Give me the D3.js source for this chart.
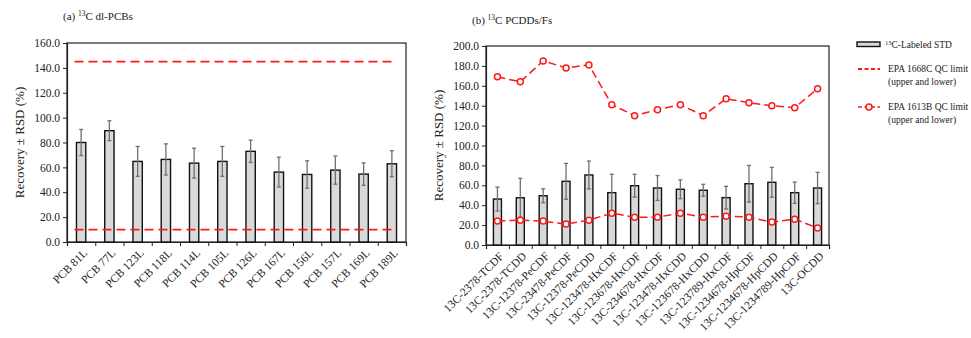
<!DOCTYPE html>
<html>
<head>
<meta charset="utf-8">
<script src="https://cdn.jsdelivr.net/npm/d3@7"></script>
<style>
  body { margin: 0; background: #fff; }
</style>
</head>
<body>
<script>
// panel (a) 13C dl-PCBs
const pcbNames = ["PCB 81L", "PCB 77L", "PCB 123L", "PCB 118L", "PCB 114L", "PCB 105L",
  "PCB 126L", "PCB 167L", "PCB 156L", "PCB 157L", "PCB 169L", "PCB 189L"]
const pcbMean = [80, 89.5, 64.8, 66.4, 63.4, 64.8, 72.9, 56.2, 54.3, 57.8, 54.6, 62.9]
const pcbSd = [10.5, 8, 12, 12.5, 12, 12, 9, 12, 11, 11.3, 9, 10.5]
const epa1668 = [10, 145]

// panel (b) 13C PCDDs/Fs
const pcddNames = ["13C-2378-TCDF", "13C-2378-TCDD", "13C-12378-PeCDF", "13C-23478-PeCDF",
  "13C-12378-PeCDD", "13C-123478-HxCDF", "13C-123678-HxCDF", "13C-234678-HxCDF",
  "13C-123478-HxCDD", "13C-123678-HxCDD", "13C-123789-HxCDF", "13C-1234678-HpCDF",
  "13C-1234678-HpCDD", "13C-1234789-HpCDF", "13C-OCDD"]
const pcddMean = [46.2, 47.5, 49.5, 64, 70.4, 52.6, 59.6, 57.3, 56, 55, 47.6, 61.6, 63, 52.6, 57.3]
const pcddSd = [12, 19.5, 7, 18, 14, 18.5, 11.5, 12.5, 9.5, 6, 11.4, 18.4, 15, 10.7, 15.7]
const epa1613Upper = [169, 164, 185, 178, 181, 141, 130, 136, 141, 130, 147, 143, 140, 138, 157]
const epa1613Lower = [24, 25, 24, 21, 25, 32, 28, 28, 32, 28, 29, 28, 23, 26, 17]

const red = "#ff1a1a"
const serif = "'Liberation Serif', 'Times New Roman', Times, serif"

const svg = d3.select("body").append("svg")
    .attr("width", 971)
    .attr("height", 338)

function panel(opts) {
    const { left, right, top, bottom, yMax, names, mean, sd, title, titleX, titleY, pad } = opts
    const g = svg.append("g")

    const x = d3.scaleBand().domain(names).range([left, right]).paddingInner(pad).paddingOuter(pad / 2)
    const xEdge = d3.scaleLinear().domain([0, names.length]).range([left, right])
    const y = d3.scaleLinear().domain([0, yMax]).range([bottom, top])

    // frame
    g.append("rect")
        .attr("x", left).attr("y", top)
        .attr("width", right - left).attr("height", bottom - top)
        .attr("fill", "none").attr("stroke", "#222").attr("stroke-width", 1.2)

    // y axis
    const yAxis = g.append("g")
        .attr("transform", `translate(${left},0)`)
        .call(d3.axisLeft(y).ticks(yMax / 20).tickSize(4).tickFormat(d3.format(".1f")))
    yAxis.select(".domain").attr("stroke", "#222").attr("stroke-width", 1.2)
    yAxis.selectAll("line").attr("stroke", "#222")
    yAxis.selectAll("text")
        .attr("font-size", 11.5).attr("fill", "#222").attr("x", -7)

    // x axis ticks at category edges
    const xAxis = g.append("g")
        .attr("transform", `translate(0,${bottom})`)
        .call(d3.axisBottom(xEdge).tickValues(d3.range(names.length + 1)).tickSize(4).tickFormat(""))
    xAxis.select(".domain").attr("stroke", "#222").attr("stroke-width", 1.2)
    xAxis.selectAll("line").attr("stroke", "#222")

    // x labels
    g.append("g").selectAll("text")
        .data(names)
        .join("text")
        .attr("transform", d => `translate(${x(d) + x.bandwidth() / 2 + 4},${bottom + 9}) rotate(-45)`)
        .attr("text-anchor", "end")
        .attr("dy", "0.35em")
        .attr("font-size", 11.5)
        .attr("fill", "#222")
        .text(d => d)

    // y title
    g.append("text")
        .attr("transform", `translate(${left - 43},${(top + bottom) / 2}) rotate(-90)`)
        .attr("text-anchor", "middle")
        .attr("font-size", 13)
        .attr("fill", "#222")
        .text("Recovery \u00b1 RSD (%)")

    // panel title
    const t = g.append("text")
        .attr("x", titleX).attr("y", titleY)
        .attr("font-size", 11)
        .attr("fill", "#222")
    t.append("tspan").text(title[0] + " ")
    t.append("tspan").attr("font-size", 7.5).attr("dy", -4).text("13")
    t.append("tspan").attr("dy", 4).text(title[1])

    // bars
    g.append("g").selectAll("rect")
        .data(names)
        .join("rect")
        .attr("x", d => x(d))
        .attr("width", x.bandwidth())
        .attr("y", (d, i) => y(mean[i]))
        .attr("height", (d, i) => bottom - y(mean[i]))
        .attr("fill", "#d9d9d9")
        .attr("stroke", "#111")
        .attr("stroke-width", 1.4)

    // error bars
    const err = g.append("g")
        .attr("stroke", "#6f6f6f")
        .attr("stroke-width", 1.3)
        .selectAll("g")
        .data(names)
        .join("g")
    const cx = d => x(d) + x.bandwidth() / 2
    err.append("line")
        .attr("x1", cx).attr("x2", cx)
        .attr("y1", (d, i) => y(mean[i] - sd[i]))
        .attr("y2", (d, i) => y(mean[i] + sd[i]))
    err.append("line")
        .attr("x1", d => cx(d) - 2).attr("x2", d => cx(d) + 2)
        .attr("y1", (d, i) => y(mean[i] + sd[i]))
        .attr("y2", (d, i) => y(mean[i] + sd[i]))
    err.append("line")
        .attr("x1", d => cx(d) - 2).attr("x2", d => cx(d) + 2)
        .attr("y1", (d, i) => y(mean[i] - sd[i]))
        .attr("y2", (d, i) => y(mean[i] - sd[i]))

    return { g, x, y, cx }
}

// (a)
const pa = panel({
    left: 67, right: 406, top: 43, bottom: 242, yMax: 160,
    names: pcbNames, mean: pcbMean, sd: pcbSd,
    title: ["(a)", "C dl-PCBs"], titleX: 63, titleY: 20, pad: 0.67
})
pa.g.append("g").selectAll("line")
    .data(epa1668)
    .join("line")
    .attr("x1", pa.x(pcbNames[0]) - 2)
    .attr("x2", pa.cx(pcbNames[pcbNames.length - 1]))
    .attr("y1", d => pa.y(d)).attr("y2", d => pa.y(d))
    .attr("stroke", red).attr("stroke-width", 1.8)
    .attr("stroke-dasharray", "9,5")

// (b)
const pb = panel({
    left: 486, right: 829, top: 46, bottom: 245, yMax: 200,
    names: pcddNames, mean: pcddMean, sd: pcddSd,
    title: ["(b)", "C PCDDs/Fs"], titleX: 472, titleY: 24, pad: 0.65
})
for (const series of [epa1613Upper, epa1613Lower]) {
    const line = d3.line().x((d, i) => pb.cx(pcddNames[i])).y(d => pb.y(d))
    pb.g.append("path")
        .attr("d", line(series))
        .attr("fill", "none")
        .attr("stroke", red).attr("stroke-width", 1.5)
        .attr("stroke-dasharray", "8,4")
    pb.g.append("g").selectAll("circle")
        .data(series)
        .join("circle")
        .attr("cx", (d, i) => pb.cx(pcddNames[i]))
        .attr("cy", d => pb.y(d))
        .attr("r", 3)
        .attr("fill", "#fff")
        .attr("stroke", red).attr("stroke-width", 1.5)
}

// legend
const lg = svg.append("g").attr("font-size", 9.5).attr("fill", "#222")
lg.append("rect").attr("x", 857).attr("y", 42).attr("width", 23).attr("height", 4.5)
    .attr("fill", "#d9d9d9").attr("stroke", "#111").attr("stroke-width", 1.4)
const l1 = lg.append("text").attr("x", 885).attr("y", 48)
l1.append("tspan").attr("font-size", 6.5).attr("dy", -3.5).text("13")
l1.append("tspan").attr("dy", 3.5).text("C-Labeled STD")

lg.append("line").attr("x1", 858).attr("x2", 880).attr("y1", 69).attr("y2", 69)
    .attr("stroke", red).attr("stroke-width", 1.8).attr("stroke-dasharray", "4,2.5")
lg.append("text").attr("x", 888).attr("y", 72).text("EPA 1668C QC limit")
lg.append("text").attr("x", 888).attr("y", 85).text("(upper and lower)")

lg.append("line").attr("x1", 858).attr("x2", 880).attr("y1", 107).attr("y2", 107)
    .attr("stroke", red).attr("stroke-width", 1.5).attr("stroke-dasharray", "4,2.5")
lg.append("circle").attr("cx", 869).attr("cy", 107).attr("r", 3)
    .attr("fill", "#fff").attr("stroke", red).attr("stroke-width", 1.5)
lg.append("text").attr("x", 888).attr("y", 110).text("EPA 1613B QC limit")
lg.append("text").attr("x", 888).attr("y", 123).text("(upper and lower)")

svg.selectAll("text").style("font-family", serif)
</script>
</body>
</html>
